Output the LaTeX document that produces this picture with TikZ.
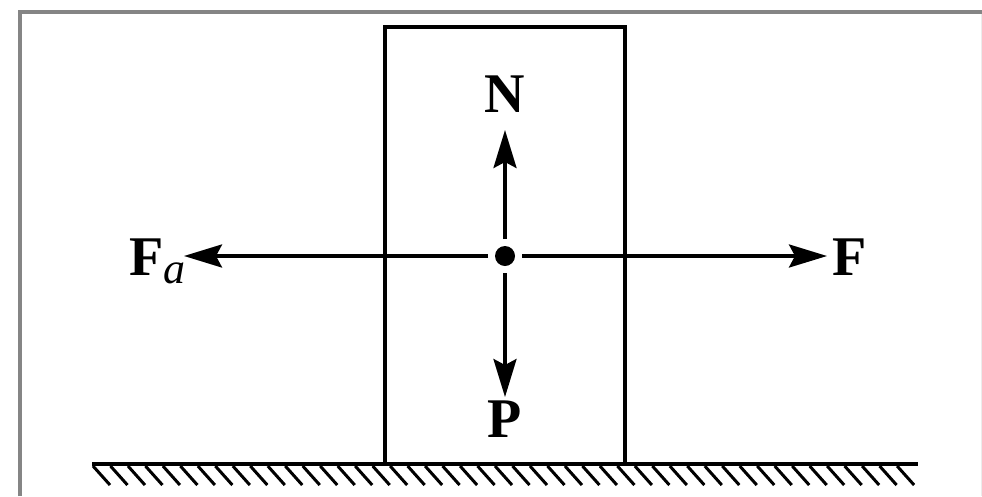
\documentclass[tikz,border=0pt]{standalone}
\usepackage{fontspec}
\setmainfont{Liberation Serif}
\usetikzlibrary{arrows.meta}
\definecolor{framegray}{HTML}{858585}
\tikzset{
  force/.style={line width=3.5pt, -{Stealth[length=38pt,width=23pt,inset=6pt]}},
  lbl/.style={inner sep=0pt, anchor=base, font=\fontsize{56}{60}\selectfont\bfseries},
  hatch/.style={line width=3pt},
}
\begin{document}
\begin{tikzpicture}[x=1pt,y=-1pt]
\useasboundingbox (0,0) rectangle (982,496);
% frame
\draw[framegray, line width=4pt] (20,496) -- (20,12) -- (982,12);
\draw[gray!15, line width=1pt] (981,14) -- (981,496);
% block
\node (box) [draw, line width=3.5pt, minimum width=240pt, minimum height=437pt, inner sep=0pt] at (505,245.5) {};
% ground
\coordinate (gl) at (92,464);
\coordinate (gr) at (918,464);
\draw[line width=3.5pt] (gl) -- (gr);
\foreach \i in {0,...,46}{
  \draw[hatch] ({93+17.48*\i},466) -- ++(17,19);
}
% centre
\node (c) [circle, fill=black, inner sep=0pt, minimum size=20pt, outer sep=7pt] at (505,256) {};
\coordinate (ntip) at (505,130);
\coordinate (ptip) at (505,397);
\coordinate (ftip) at (827,256);
\coordinate (fatip) at (184,256);
\draw[force] (c) -- (ntip);
\draw[force] (c) -- (ptip);
\draw[force] (c) -- (ftip);
\draw[force] (c) -- (fatip);
% labels
\node (N) [lbl] at (505,112) {N};
\node (P) [lbl] at (505,437) {P};
\node (F) [lbl, anchor=base west] at (832,275) {F};
\node (Fa) [lbl, anchor=base west] at (129,275) {F\raisebox{-8pt}{\fontsize{44}{44}\selectfont\mdseries\itshape a}};
\end{tikzpicture}
\end{document}
